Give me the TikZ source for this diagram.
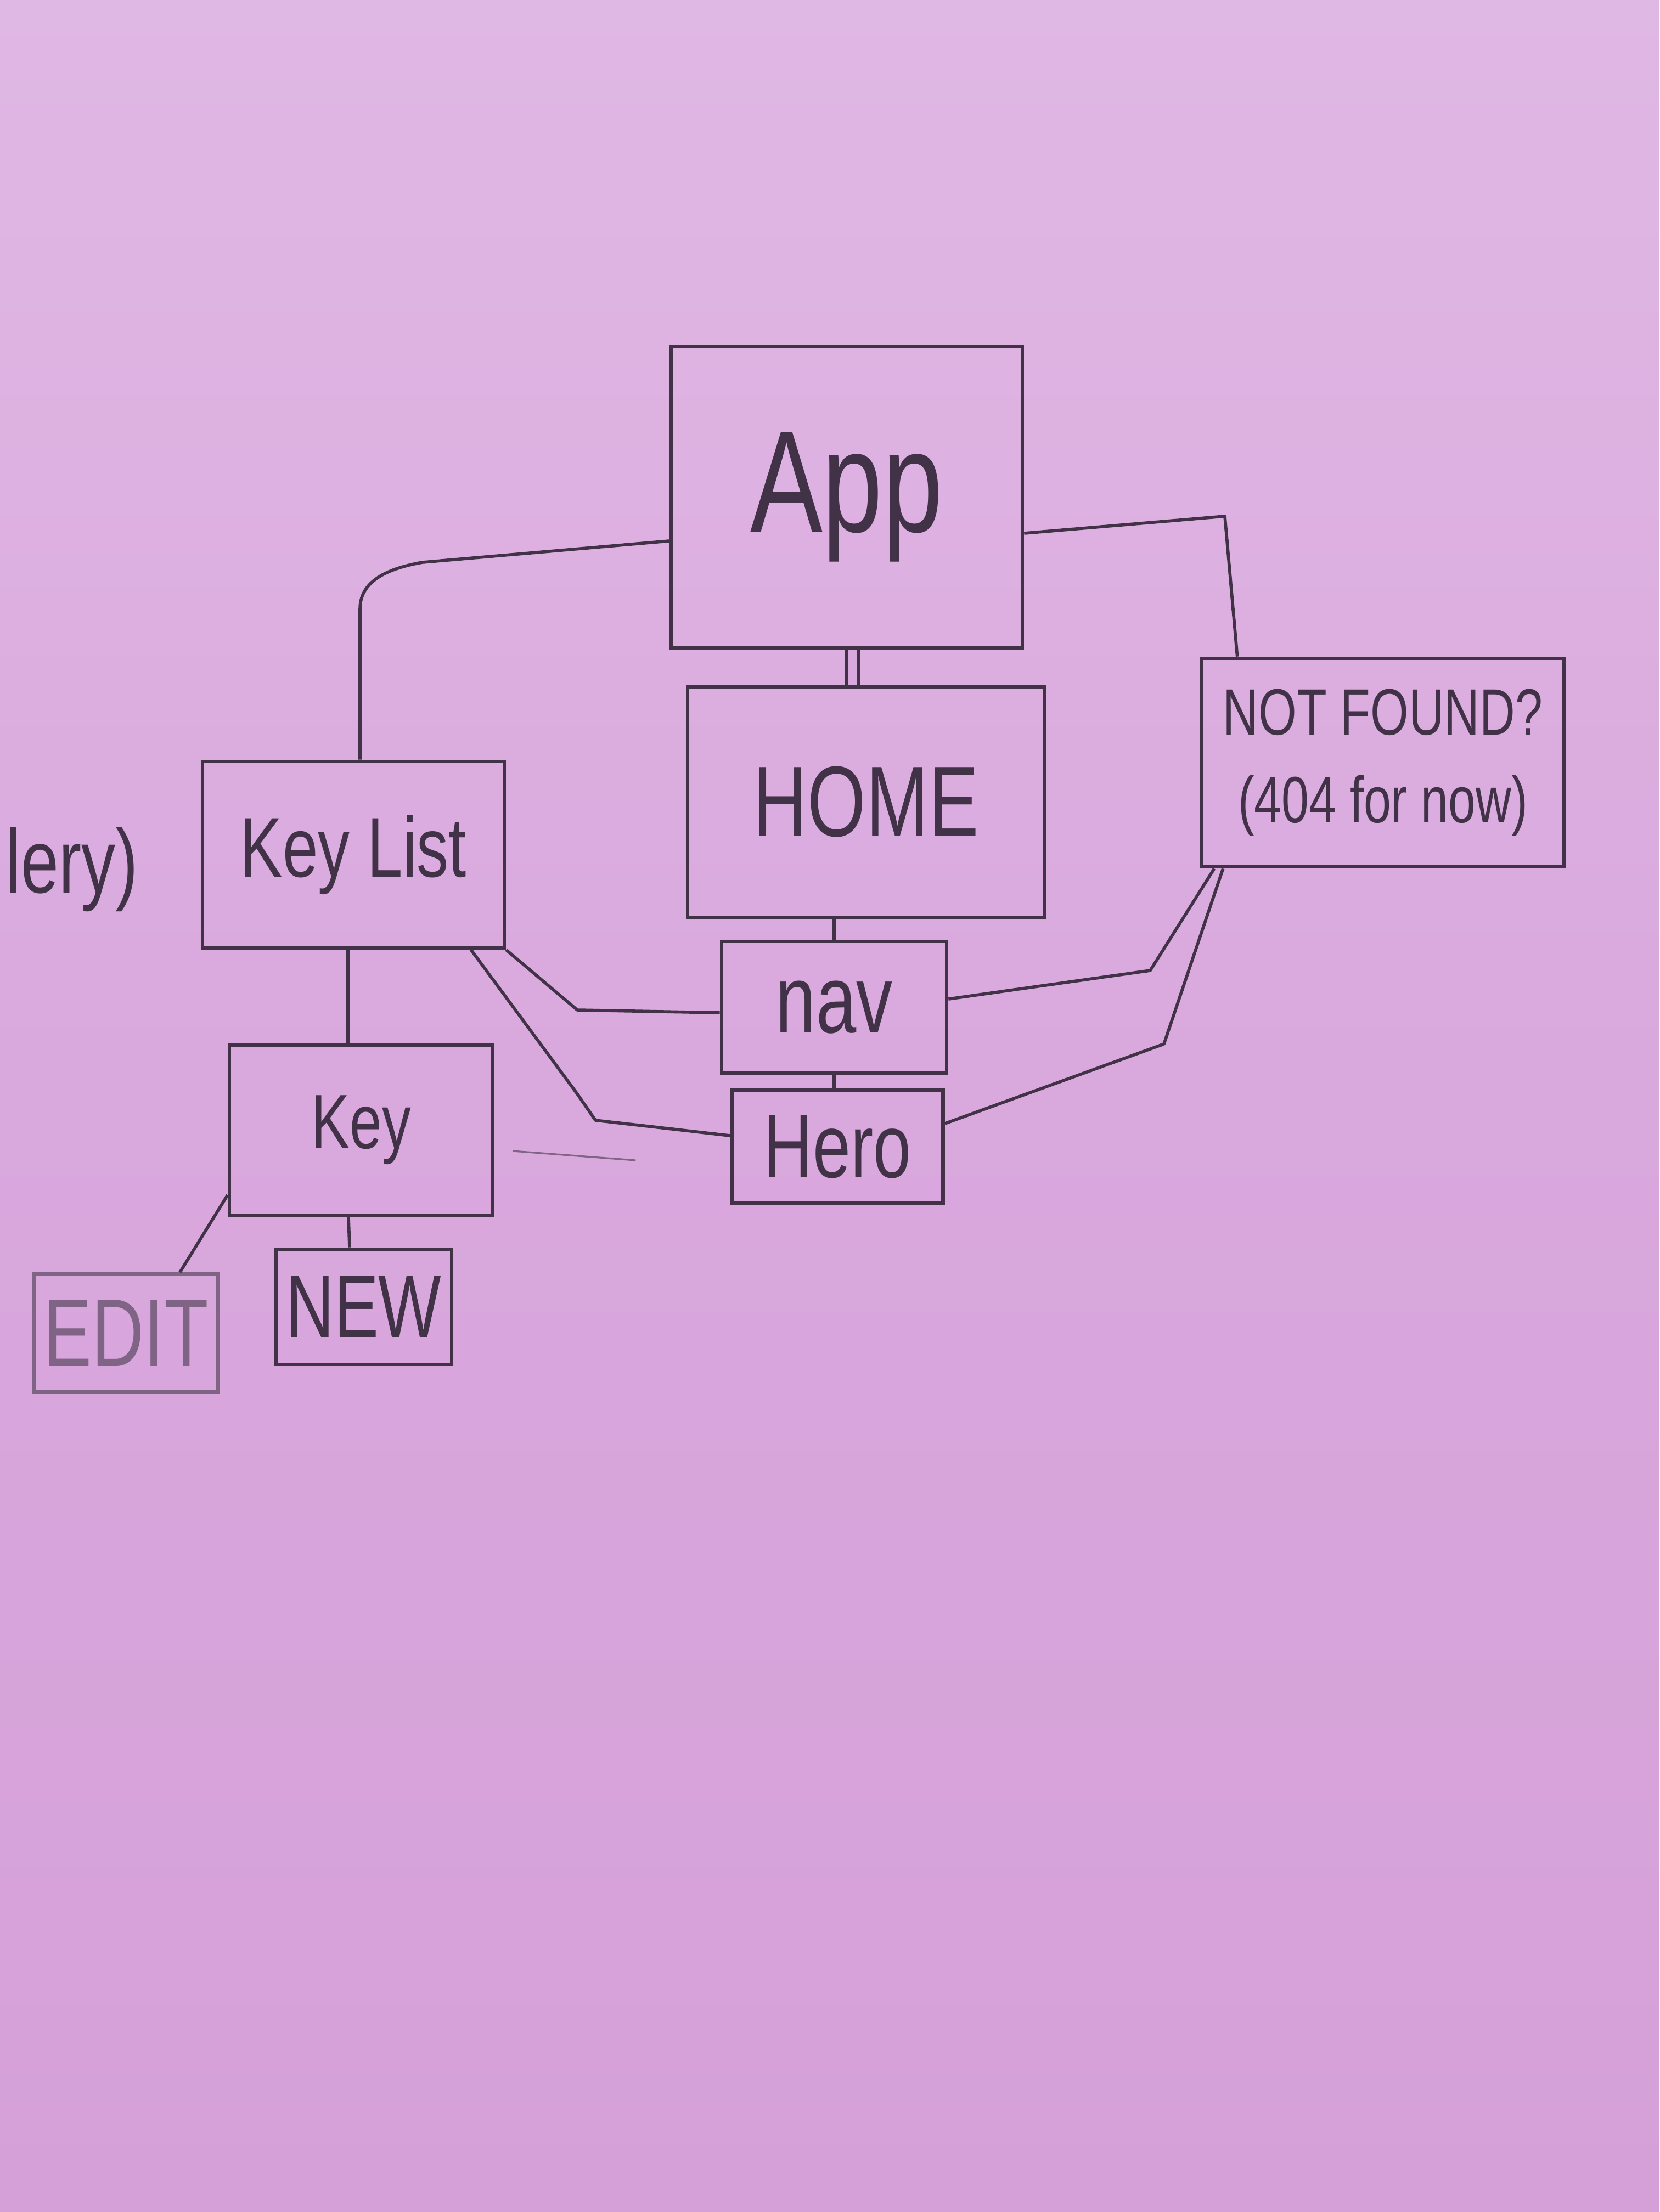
\documentclass[tikz,border=0pt]{standalone}
\usepackage{fontspec}
\setmainfont{Liberation Sans}
\newfontfamily\handfont[FakeStretch=0.75]{Liberation Sans}
\definecolor{paper}{RGB}{217,168,221}
\definecolor{papertop}{RGB}{224,184,228}
\definecolor{paperbot}{RGB}{213,160,216}
\definecolor{pencil}{RGB}{66,50,72}
\definecolor{faint}{RGB}{128,100,133}

\begin{document}
\begin{tikzpicture}[
    box/.style={draw=pencil, line width=1.9pt, text=pencil, inner sep=0pt},
    boxsize/.style 2 args={minimum width=#1cm, minimum height=#2cm},
    hand/.style={font=\handfont\fontsize{#1pt}{#1pt}\selectfont},
    link/.style={draw=pencil, line width=1.6pt, line join=round}
    ]
	\fill[top color=papertop, bottom color=paperbot, middle color=paper] (0,0) rectangle (30.24,-40.32);
	\useasboundingbox (0,0) rectangle (30.24,-40.32);

	\node[box, boxsize={6.4}{5.5}, hand=75] (App) at (15.43,-9.06) {App};
	\node[box, boxsize={6.5}{4.2}, hand=52] (Home) at (15.78,-14.62) {HOME};
	\node[box, boxsize={6.6}{3.8}, hand=34, align=center] (NotFound) at (25.2,-13.9) {NOT FOUND?\\[4mm](404 for now)};
	\node[box, boxsize={5.5}{3.4}, hand=44] (KeyList) at (6.44,-15.58) {Key List};
	\node[box, boxsize={4.1}{2.4}, hand=50] (Nav) at (15.2,-18.36) {nav};
	\node[box, boxsize={3.85}{2.05}, hand=47] (Hero) at (15.26,-20.9) {Hero};
	\node[box, boxsize={4.8}{3.1}, hand=40] (Key) at (6.58,-20.6) {Key};
	\node[box, boxsize={3.35}{2.15}, hand=50, draw=faint, text=faint] (Edit) at (2.3,-24.3) {EDIT};
	\node[box, boxsize={3.2}{2.1}, hand=46] (New) at (6.63,-23.82) {NEW};
	\node[hand=47, text=pencil, anchor=west, inner sep=0pt] (Gallery) at (0.1,-15.85) {lery)};

	\draw[link] ([yshift=-8mm]App.west) -- (7.7,-10.25) to[out=190,in=90] (6.56,-11.1) -- ([xshift=1.2mm]KeyList.north);
	\draw[link] ([yshift=-6.6mm]App.east) -- (22.32,-9.41) -- ([xshift=6.8mm]NotFound.north west);
	\draw[link, double=paper, double distance=1.6mm] ([xshift=1mm]App.south) -- ([xshift=1mm]App.south |- Home.north);
	\draw[link] (Nav.north |- Home.south) -- (Nav.north);
	\draw[link] (Nav.south) -- (Nav.south |- Hero.north);
	\draw[link] ([xshift=-1mm]KeyList.south) -- ([xshift=-1mm]KeyList.south |- Key.north);
	\draw[link] (KeyList.south east) -- (10.52,-18.41) -- ([yshift=-1mm]Nav.west);
	\draw[link] ([xshift=-6.4mm]KeyList.south east) -- (10.52,-19.94) -- (10.85,-20.42) -- ([yshift=2mm]Hero.west);
	\draw[link] ([xshift=2.6mm]NotFound.south west) -- (20.96,-17.69) -- ([yshift=1.5mm]Nav.east);
	\draw[link] ([xshift=4.2mm]NotFound.south west) -- (21.21,-19.03) -- ([yshift=4.2mm]Hero.east);
	\draw[link] ([yshift=4mm]Key.south west) -- ([xshift=-7.3mm]Edit.north east);
	\draw[link] ([xshift=-2.3mm]Key.south) -- ([xshift=-2.6mm]New.north);
	\draw[link, draw=faint, line width=0.9pt] ([xshift=3.3mm,yshift=-3.8mm]Key.east) -- ++(2.24,-0.17);
\end{tikzpicture}
\end{document}
